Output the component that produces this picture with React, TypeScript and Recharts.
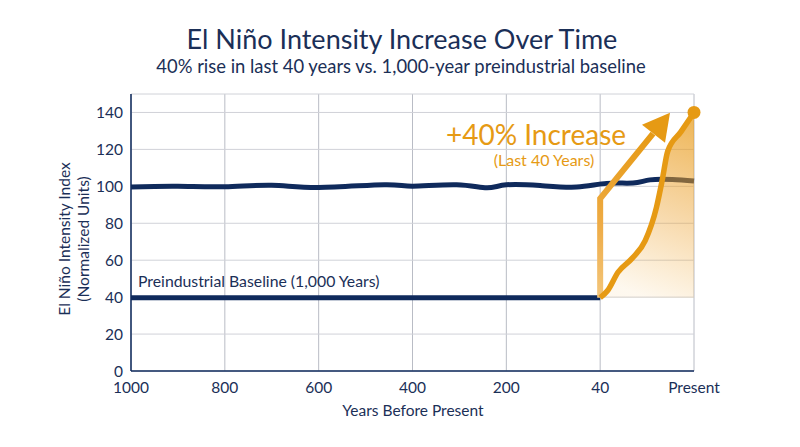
import React from 'react';
import { ComposedChart, Line, Area, XAxis, YAxis, CartesianGrid, ReferenceDot } from 'recharts';

// x values are positions along the uneven time axis, one unit per tick label
const xLabels = ['1000', '800', '600', '400', '200', '40', 'Present'];
const xTicks = [0, 1, 2, 3, 4, 5, 6];
const yTicks = [0, 20, 40, 60, 80, 100, 120, 140];

const upperX = [0, 0.5, 1, 1.5, 2, 2.7, 3, 3.47, 3.79, 4, 4.36, 4.75, 5.07, 5.35, 5.53, 5.77, 6];
const upperY = [99.7, 100, 99.8, 100.6, 99.4, 100.9, 100.1, 100.9, 99.2, 100.8, 100.4, 99.6, 101.6, 101.8, 103.5, 103.7, 102.9];

const baselineX = [0, 5];
const baselineY = [39.7, 39.7];

const riseX = [5, 5.08, 5.19, 5.34, 5.48, 5.6, 5.66, 5.72, 5.86, 6];
const riseY = [39.7, 43.6, 53.5, 61, 70.6, 88.6, 103, 119, 129.5, 140];

const arrowX = [5, 5, 5.563];
const arrowY = [39.7, 93.4, 128.5];

const toRows = (xs: number[], ys: number[]) => xs.map((x, i) => ({ x, y: ys[i] }));

const NAVY = '#0f2a5c';
const ORANGE = '#e69a14';
const TEXT = '#1b2f57';
const FONT = 'Lato, sans-serif';

const ArrowHead = (props: any) => {
  const { cx, cy, index } = props;
  if (index !== arrowX.length - 1) return <g key={index} />;
  return <path key={index} d={`M${cx + 17} ${cy - 21}L${cx - 11} ${cy - 9}L${cx + 12} ${cy + 9}Z`} fill={ORANGE} />;
};

export default function App() {
  return (
    <div style={{ position: 'absolute', left: 0, top: 0, width: 800, height: 447, background: '#fff' }}>
      <ComposedChart
        width={800}
        height={447}
        margin={{ top: 94, right: 106, bottom: 46, left: 71 }}
        style={{ fontFamily: FONT }}
      >
        <defs>
          <linearGradient id="riseFill" x1="0.7" y1="0" x2="0.5" y2="1">
            <stop offset="0%" stopColor="#e89c1c" stopOpacity={0.72} />
            <stop offset="55%" stopColor="#ec9f2a" stopOpacity={0.38} />
            <stop offset="100%" stopColor="#f0a830" stopOpacity={0.08} />
          </linearGradient>
          <linearGradient id="arrowStroke" x1="0" y1="1" x2="0" y2="0">
            <stop offset="0%" stopColor="#f3c67c" />
            <stop offset="45%" stopColor="#eeab45" />
            <stop offset="100%" stopColor={ORANGE} />
          </linearGradient>
        </defs>
        <CartesianGrid horizontal={false} stroke="#b9bcc5" strokeWidth={1} />
        <CartesianGrid vertical={false} stroke="#d0d2d8" strokeWidth={1} />
        <XAxis
          type="number"
          dataKey="x"
          domain={[0, 6]}
          ticks={xTicks}
          interval={0}
          tickFormatter={(v: number) => xLabels[v]}
          tickLine={false}
          tickMargin={5}
          height={30}
          axisLine={{ stroke: NAVY, strokeWidth: 1.5 }}
          tick={{ fill: TEXT, fontSize: 15.5 }}
        />
        <YAxis
          type="number"
          domain={[0, 150]}
          ticks={yTicks}
          interval={0}
          tickLine={false}
          tickMargin={2}
          width={60}
          axisLine={{ stroke: NAVY, strokeWidth: 1.5 }}
          tick={{ fill: TEXT, fontSize: 15.5 }}
        />
        <Line data={toRows(upperX, upperY)} dataKey="y" type="natural" stroke={NAVY} strokeWidth={5} dot={false} zIndex={90} isAnimationActive={false} />
        <Line data={toRows(baselineX, baselineY)} dataKey="y" type="linear" stroke={NAVY} strokeWidth={5} dot={false} zIndex={90} isAnimationActive={false} />
        <Area data={toRows(riseX, riseY)} dataKey="y" type="monotone" baseValue={39.7} stroke="none" fill="url(#riseFill)" fillOpacity={1} isAnimationActive={false} />
        <Line data={toRows(arrowX, arrowY)} dataKey="y" type="linear" stroke="url(#arrowStroke)" strokeWidth={6} dot={<ArrowHead />} isAnimationActive={false} />
        <Line data={toRows(riseX, riseY)} dataKey="y" type="monotone" stroke={ORANGE} strokeWidth={5.5} dot={false} isAnimationActive={false} />
        <ReferenceDot x={6} y={140} r={6.5} fill={ORANGE} stroke="none" />

        <text x={402} y={49} textAnchor="middle" fontSize={27} fill={TEXT} fontFamily={FONT}>El Niño Intensity Increase Over Time</text>
        <text x={401} y={73} textAnchor="middle" fontSize={18.4} fill={TEXT} fontFamily={FONT}>40% rise in last 40 years vs. 1,000-year preindustrial baseline</text>
        <text x={138} y={287} fontSize={15.8} fill={TEXT} fontFamily={FONT}>Preindustrial Baseline (1,000 Years)</text>
        <text x={536} y={145} textAnchor="middle" fontSize={28} fill={ORANGE} fontFamily={FONT}>+40% Increase</text>
        <text x={544} y={166} textAnchor="middle" fontSize={16} fill={ORANGE} fontFamily={FONT}>(Last 40 Years)</text>
        <text x={413} y={416} textAnchor="middle" fontSize={15.5} fill={TEXT} fontFamily={FONT}>Years Before Present</text>
        <text transform="translate(70 239) rotate(-90)" textAnchor="middle" fontSize={15.5} fill={TEXT} fontFamily={FONT}>El Niño Intensity Index</text>
        <text transform="translate(89 239) rotate(-90)" textAnchor="middle" fontSize={15.5} fill={TEXT} fontFamily={FONT}>(Normalized Units)</text>
      </ComposedChart>
    </div>
  );
}
